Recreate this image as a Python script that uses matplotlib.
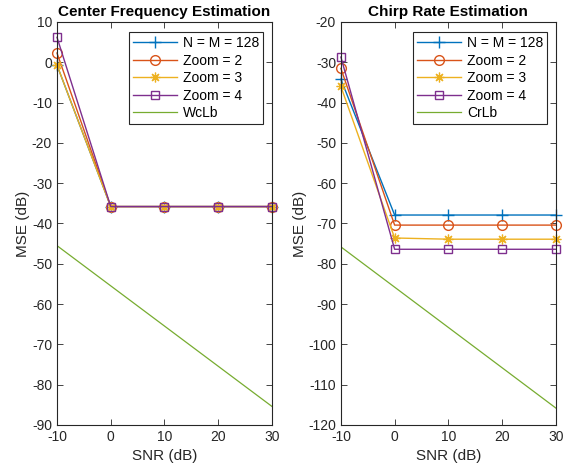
import matplotlib
matplotlib.use("Agg")
import matplotlib.pyplot as plt

plt.rcParams['font.family'] = ['Liberation Sans', 'DejaVu Sans']
plt.rcParams['font.size'] = 10
plt.rcParams['axes.unicode_minus'] = False

# SNR axis
snr = [-10, 0, 10, 20, 30]
snr_lb = [-10, 30]

# Center frequency MSE (dB)
cf_nm128 = [-0.7, -35.8, -35.8, -35.8, -35.8]
cf_zoom2 = [2.3, -35.8, -35.8, -35.8, -35.8]
cf_zoom3 = [-0.7, -35.8, -35.8, -35.8, -35.8]
cf_zoom4 = [6.2, -35.8, -35.8, -35.8, -35.8]
cf_lb = [-45.5, -85.4]

# Chirp rate MSE (dB)
cr_nm128 = [-34.2, -67.9, -67.9, -67.9, -67.9]
cr_zoom2 = [-31.5, -70.4, -70.4, -70.4, -70.4]
cr_zoom3 = [-36.0, -73.6, -73.9, -73.9, -73.9]
cr_zoom4 = [-28.7, -76.4, -76.4, -76.4, -76.4]
cr_lb = [-75.8, -115.8]

c_blue = '#0072BD'
c_orange = '#D95319'
c_yellow = '#EDB120'
c_purple = '#7E2F8E'
c_green = '#77AC30'

fig = plt.figure(figsize=(5.71, 4.75), dpi=100)
ax1 = fig.add_axes([0.0998, 0.1053, 0.3765, 0.8484])
ax2 = fig.add_axes([0.597, 0.1053, 0.3765, 0.8484])


def draw(ax, d1, d2, d3, d4, lb, lbname, title, ylim):
    ax.plot(snr, d1, color=c_blue, marker='+', ms=8, lw=1, mew=1, label='N = M = 128', clip_on=False)
    ax.plot(snr, d2, color=c_orange, marker='o', ms=7, lw=1, mfc='none', label='Zoom = 2', clip_on=False)
    ax.plot(snr, d3, color=c_yellow, marker=(8, 2, 0), ms=7, lw=1, mew=0.9, label='Zoom = 3', clip_on=False)
    ax.plot(snr, d4, color=c_purple, marker='s', ms=6, lw=1, mfc='none', label='Zoom = 4', clip_on=False)
    ax.plot(snr_lb, lb, color=c_green, lw=0.9, label=lbname)
    ax.set_xlim(-10, 30)
    ax.set_ylim(*ylim)
    ax.set_xticks(snr)
    ax.set_yticks(range(ylim[0], ylim[1] + 1, 10))
    ax.tick_params(direction='in', top=True, right=True, length=4,
                   width=0.6, colors='#262626', labelsize=10)
    for sp in ax.spines.values():
        sp.set_linewidth(0.8)
        sp.set_color('#262626')
    for lab in ax.get_xticklabels() + ax.get_yticklabels():
        lab.set_color('#262626')
    ax.set_xlabel('SNR (dB)', fontsize=11, color='#262626')
    ax.set_ylabel('MSE (dB)', fontsize=11, color='#262626', labelpad=1)
    ax.set_title(title, fontsize=11, fontweight='bold', pad=4)
    leg = ax.legend(loc='upper right', bbox_to_anchor=(0.96, 0.975), fancybox=False,
                    edgecolor='#262626', framealpha=1, fontsize=10, handlelength=3.2,
                    borderpad=0.3, labelspacing=0.25, handletextpad=0.4, borderaxespad=0)
    leg.get_frame().set_linewidth(0.8)


draw(ax1, cf_nm128, cf_zoom2, cf_zoom3, cf_zoom4, cf_lb, 'WcLb',
     'Center Frequency Estimation', (-90, 10))
draw(ax2, cr_nm128, cr_zoom2, cr_zoom3, cr_zoom4, cr_lb, 'CrLb',
     'Chirp Rate Estimation', (-120, -20))

fig.savefig('out.png', dpi=100)
